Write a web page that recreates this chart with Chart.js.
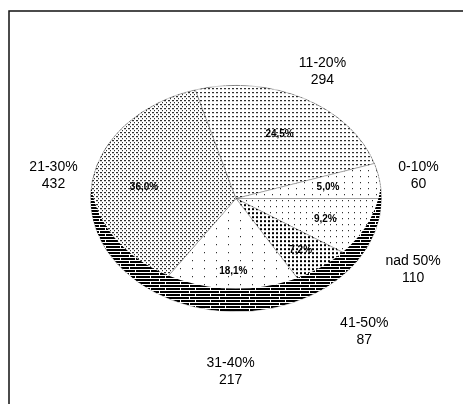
<!DOCTYPE html>
<html>
<head>
<meta charset="utf-8">
<script src="https://cdn.jsdelivr.net/npm/chart.js@4.4.1/dist/chart.umd.min.js"></script>
<style>
  html, body { margin: 0; padding: 0; background: #fff; }
  canvas { display: block; }
</style>
</head>
<body>
<canvas id="pie" width="463" height="407"></canvas>
<script>
const categories = ['0-10%', '11-20%', '21-30%', '31-40%', '41-50%', 'nad 50%'];
const counts = [60, 294, 432, 217, 87, 110];

const tilt = 113.5 / 146;   // ellipse height / width
const sideDepth = 23;       // dark 3D rim at the bottom
const labelDrop = 30;       // outside labels under the pie sit lower
const total = counts.reduce((a, b) => a + b, 0);

const canvas = document.getElementById('pie');
const ctx = canvas.getContext('2d');

// little black & white fills like the printed chart
function makePattern(w, h, marks, squash) {
    const c = document.createElement('canvas');
    c.width = w;
    c.height = h;
    const g = c.getContext('2d');
    g.fillStyle = '#fff';
    g.fillRect(0, 0, w, h);
    g.fillStyle = '#000';
    marks.forEach(m => g.fillRect(m[0], m[1], m[2], m[3]));
    const p = ctx.createPattern(c, 'repeat');
    if (squash) p.setTransform(new DOMMatrix().scale(1, 1 / tilt));
    return p;
}

const fills = [
    makePattern(8, 6, [[0, 0, 1, 1]], true),                       // 0-10%
    makePattern(4, 4, [[0, 0, 2, 1]], true),                       // 11-20%
    makePattern(4, 4, [[0, 0, 2, 1], [2, 2, 1, 1]], true),         // 21-30%
    makePattern(12, 8, [[0, 0, 1, 1]], true),                      // 31-40%
    makePattern(4, 4, [[0, 0, 2, 2]], true),                       // 41-50%
    makePattern(6, 6, [[0, 0, 1, 1]], true)                        // nad 50%
];
const rimFill = makePattern(30, 6, [[1, 0, 14, 2], [16, 0, 14, 2], [0, 3, 9, 2], [10, 3, 20, 2]], false);

// the slices run anticlockwise from 3 o'clock, Chart.js runs clockwise
const order = categories.map((c, i) => i).reverse();

const ellipsePie = {
    id: 'ellipsePie',
    beforeDatasetsDraw(chart) {
        const arc = chart.getDatasetMeta(0).data[0];
        const c = chart.ctx;
        c.save();
        c.translate(arc.x, arc.y);
        c.scale(1, tilt);
        c.translate(-arc.x, -arc.y);
    },
    afterDatasetsDraw(chart) {
        const c = chart.ctx;
        c.restore();
        const arcs = chart.getDatasetMeta(0).data;
        const x0 = arcs[0].x, y0 = arcs[0].y;
        const rx = arcs[0].outerRadius, ry = rx * tilt;

        // rim
        c.save();
        c.beginPath();
        c.ellipse(x0, y0, rx, ry, 0, 0, Math.PI * 2);
        c.clip();
        c.beginPath();
        c.ellipse(x0, y0, rx, ry, 0, 0, Math.PI * 2);
        c.moveTo(x0 + rx, y0 - sideDepth);
        c.ellipse(x0, y0 - sideDepth, rx, ry, 0, 0, Math.PI * 2);
        c.fillStyle = rimFill;
        c.fill('evenodd');
        c.restore();

        // labels
        c.save();
        c.fillStyle = '#000';
        c.textAlign = 'center';
        c.textBaseline = 'middle';
        arcs.forEach((a, j) => {
            const i = order[j];
            const mid = (a.startAngle + a.endAngle) / 2;
            const cs = Math.cos(mid), sn = Math.sin(mid);

            const lx = x0 + cs * rx * 1.27;
            const ly = y0 + sn * ry * 1.27 + (sn > 0 ? labelDrop * Math.min(1, sn * 4) : 0);
            c.font = '14px "Liberation Sans", Arial, sans-serif';
            c.fillText(categories[i], lx, ly - 8.5);
            c.fillText(String(counts[i]), lx, ly + 8.5);

            const ix = x0 + cs * rx * 0.64;
            const iy = y0 + sn * ry * 0.64;
            const pct = (counts[i] / total * 100).toFixed(1).replace('.', ',') + '%';
            c.font = 'bold 10px "Liberation Sans", Arial, sans-serif';
            c.fillText(pct, ix, iy);
        });
        c.restore();
    },
    afterDraw(chart) {
        const c = chart.ctx;
        c.save();
        c.strokeStyle = '#111';
        c.lineWidth = 1.5;
        c.beginPath();
        c.moveTo(9, 404);
        c.lineTo(9, 11);
        c.lineTo(463, 11);
        c.stroke();
        c.restore();
    }
};

new Chart(ctx, {
    type: 'pie',
    data: {
        labels: order.map(i => categories[i]),
        datasets: [{
            data: order.map(i => counts[i]),
            backgroundColor: order.map(i => fills[i]),
            borderColor: 'rgba(0, 0, 0, 0.3)',
            borderWidth: 1
        }]
    },
    options: {
        responsive: false,
        animation: false,
        rotation: 90,
        layout: {
            padding: { left: 90, right: 81, top: 52.5, bottom: 62.5 }
        },
        plugins: {
            legend: { display: false },
            tooltip: { enabled: false }
        }
    },
    plugins: [ellipsePie]
});
</script>
</body>
</html>
